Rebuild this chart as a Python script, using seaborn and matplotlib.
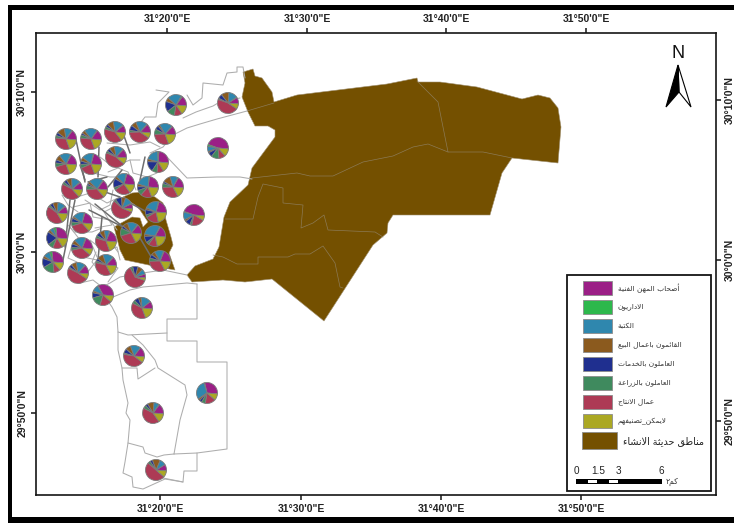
import matplotlib
matplotlib.use("Agg")
import matplotlib.pyplot as plt
from matplotlib.patches import Polygon, Rectangle
import pandas as pd
import seaborn as sns

pie_x = [66, 91, 115, 140, 165, 176, 228, 218, 66, 91, 116, 158, 72, 97, 124, 148, 173, 122, 156, 194,
         57, 82, 131, 155, 57, 106, 82, 53, 160, 106, 78, 135, 103, 142, 134, 207, 153, 156]
pie_y = [139, 139, 132, 132, 134, 105, 103, 148, 164, 164, 157, 162, 189, 189, 184, 187, 187, 208, 212, 215,
         213, 223, 233, 236, 238, 241, 248, 262, 261, 265, 273, 277, 295, 308, 356, 393, 413, 470]

# shares per district, one list per occupation group (percent, estimated)
professional = [16, 16, 12, 14, 14, 16, 10, 46, 18, 22, 14, 25, 12, 16, 22, 24, 18, 8, 22, 46,
                12, 22, 15, 18, 28, 20, 20, 28, 20, 14, 14, 6, 34, 12, 16, 30, 16, 10]
managers = [1, 1, 1, 1, 1, 2, 1, 3, 1, 1, 1, 2, 1, 1, 1, 1, 1, 1, 1, 1,
            1, 1, 1, 1, 4, 1, 1, 4, 1, 1, 1, 0, 1, 0, 0, 1, 1, 0]
clerks = [12, 20, 16, 18, 20, 22, 14, 8, 18, 18, 14, 20, 14, 22, 16, 22, 12, 12, 22, 12,
          12, 18, 16, 30, 6, 8, 18, 10, 14, 16, 14, 8, 10, 16, 16, 30, 8, 10]
sales = [12, 5, 10, 8, 3, 6, 12, 2, 8, 6, 8, 4, 8, 4, 4, 4, 12, 6, 3, 3,
         8, 3, 8, 3, 4, 8, 6, 4, 6, 10, 8, 8, 3, 4, 8, 3, 10, 12]
services = [5, 3, 4, 8, 6, 16, 7, 7, 5, 5, 5, 16, 5, 3, 14, 6, 3, 10, 8, 8,
            5, 6, 4, 10, 20, 6, 6, 14, 6, 4, 5, 8, 8, 7, 7, 4, 4, 4]
farming = [4, 5, 4, 3, 8, 12, 2, 12, 6, 6, 3, 8, 4, 6, 4, 8, 6, 3, 4, 3,
           3, 6, 12, 4, 8, 4, 4, 18, 5, 3, 2, 4, 16, 5, 2, 6, 5, 4]
production = [32, 32, 40, 40, 30, 12, 46, 10, 26, 24, 45, 10, 44, 36, 25, 17, 32, 55, 20, 20,
              44, 32, 28, 14, 15, 35, 35, 10, 32, 36, 48, 62, 18, 38, 42, 16, 42, 50]
unclassified = [18, 18, 13, 8, 18, 14, 8, 12, 18, 18, 10, 15, 12, 12, 14, 18, 16, 5, 20, 7,
                15, 12, 16, 20, 15, 18, 10, 12, 16, 16, 8, 4, 10, 18, 9, 10, 14, 10]

group_colors = ["#9b1f86", "#2db84c", "#2f87ae", "#8b5a1e", "#1f2f8f", "#3f8a5e", "#ad3a55", "#aba823"]
new_area_color = "#745000"
group_labels = ["أصحاب المهن الفنية", "الاداريون", "الكتبة", "القائمون باعمال البيع",
                "العاملون بالخدمات", "العاملون بالزراعة", "عمال الانتاج", "لايمكن_تصنيفهم"]
new_area_label = "مناطق حديثة الانشاء"
km_label = "كم٢"

scale_labels = ["0", "1.5", "3", "6"]
scale_pos = [576, 598, 618, 661]

bottom_ticks = [160, 301, 441, 581]
top_ticks = [167, 307, 446, 586]
lon_labels = ["31°20'0\"E", "31°30'0\"E", "31°40'0\"E", "31°50'0\"E"]
left_ticks = [92, 252, 413]
right_ticks = [100, 260, 421]
lat_labels = ["30°10'0\"N", "30°0'0\"N", "29°50'0\"N"]

new_area_east = [(243, 72), (253, 69), (255, 76), (262, 78), (272, 92), (274, 102), (297, 95), (387, 84), (417, 78),
                 (418, 82), (440, 82), (477, 87), (522, 99), (538, 95), (550, 98), (558, 108), (561, 127), (558, 163),
                 (512, 158), (502, 173), (490, 215), (393, 215), (388, 223), (387, 233), (373, 245), (324, 321),
                 (272, 279), (245, 282), (223, 280), (192, 282), (187, 275), (195, 266), (213, 259), (219, 247),
                 (224, 217), (230, 202), (248, 185), (252, 168), (275, 137), (275, 130), (268, 126), (255, 126),
                 (248, 112), (242, 97), (245, 83)]
new_area_west = [(123, 197), (132, 193), (142, 192), (155, 197), (163, 203), (166, 220), (171, 237), (173, 245),
                 (169, 253), (175, 270), (158, 267), (125, 260), (120, 250), (114, 227), (123, 222), (132, 217),
                 (140, 218), (143, 227), (148, 222), (140, 210), (135, 205)]

# district boundaries
inner_lines = [
    [(247, 111), (274, 103)],
    [(417, 81), (438, 102), (448, 152)],
    [(252, 178), (297, 173), (310, 176), (333, 176), (363, 162), (393, 156), (413, 147), (428, 144), (448, 152),
     (483, 152), (512, 158)],
    [(225, 219), (253, 219), (258, 197), (263, 184), (283, 188), (283, 203), (303, 205), (301, 228), (313, 223),
     (324, 215), (328, 230), (375, 232), (383, 237)],
    [(213, 255), (223, 257), (237, 264), (258, 264), (258, 257), (288, 257), (295, 254), (310, 254), (323, 246),
     (335, 263), (340, 287), (343, 288)],
]
outer_lines = [
    [(197, 284), (197, 319), (167, 319), (167, 341), (197, 341), (197, 362), (227, 362), (227, 449), (197, 453),
     (174, 454)],
    [(197, 453), (197, 471), (184, 471), (183, 482), (165, 479), (143, 489), (133, 487), (132, 477), (123, 473),
     (125, 462), (128, 443), (130, 420), (126, 413), (128, 403), (123, 380), (122, 368), (118, 350), (118, 332),
     (117, 317), (112, 307), (107, 300)],
    [(118, 332), (128, 335), (167, 333)],
    [(132, 335), (143, 345), (155, 360), (158, 368), (185, 385), (187, 395), (180, 420), (174, 454)],
    [(122, 368), (137, 368), (138, 379), (155, 368)],
    [(128, 443), (143, 447), (145, 453), (157, 457), (164, 455), (174, 454)],
    [(158, 477), (173, 480), (183, 482)],
    [(156, 90), (169, 92), (158, 103), (156, 117), (145, 117), (135, 130)],
    [(187, 95), (193, 105), (202, 98), (203, 83), (223, 85), (227, 73), (237, 72), (237, 67), (243, 67), (245, 78)],
    [(183, 118), (196, 112), (213, 106), (218, 103), (240, 98)],
    [(247, 111), (217, 119), (200, 124), (187, 128), (173, 135), (163, 147), (150, 153)],
    [(167, 157), (187, 178), (217, 177), (240, 177), (252, 179)],
    [(80, 283), (93, 280), (102, 287), (110, 283), (120, 277), (143, 273), (163, 270), (187, 275)],
    [(113, 297), (130, 290), (143, 287), (187, 283), (197, 284)],
    [(107, 143), (130, 145), (150, 142), (160, 147)],
    [(100, 157), (113, 167), (130, 160), (140, 160)],
    [(130, 160), (133, 173), (147, 177), (157, 173)],
    [(93, 173), (110, 177), (120, 177)],
    [(77, 197), (90, 193), (107, 203), (120, 197)],
    [(73, 207), (90, 203), (93, 217), (110, 220), (117, 230)],
    [(70, 227), (80, 240), (93, 247), (97, 257)],
    [(83, 257), (97, 260), (87, 273), (80, 283)],
    [(107, 250), (117, 247), (120, 260)],
    [(95, 228), (112, 225), (104, 212), (118, 205)],
    [(72, 245), (68, 258), (77, 262)],
    [(108, 262), (118, 268), (108, 282)],
    [(85, 200), (100, 210), (110, 205), (113, 190)],
    [(68, 225), (74, 232), (92, 232), (102, 228)],
    [(90, 240), (100, 248), (112, 244), (118, 252)],
    [(62, 195), (68, 205), (78, 212)],
    [(108, 172), (118, 168), (128, 172), (136, 190)],
    [(96, 252), (92, 262), (100, 272)],
]
leader_lines = [
    [(76, 140), (85, 182)], [(99, 147), (98, 177)], [(123, 133), (130, 153)], [(145, 157), (140, 180)],
    [(80, 165), (85, 180)], [(107, 177), (88, 182)], [(122, 170), (108, 187)], [(105, 192), (120, 197)],
    [(130, 203), (147, 212)], [(95, 204), (127, 230)], [(89, 210), (123, 227)], [(102, 217), (98, 260)],
    [(70, 200), (65, 247)], [(75, 200), (63, 260)], [(140, 238), (153, 260)],
]


def shape_arabic(text):
    # matplotlib has no text shaping, so map to presentation forms and reverse
    forms = {"ء": (0xFE80, 1), "أ": (0xFE83, 2), "ئ": (0xFE89, 4), "ا": (0xFE8D, 2), "ب": (0xFE8F, 4), "ة": (0xFE93, 2),
             "ت": (0xFE95, 4), "ث": (0xFE99, 4), "ج": (0xFE9D, 4), "ح": (0xFEA1, 4), "خ": (0xFEA5, 4), "د": (0xFEA9, 2),
             "ر": (0xFEAD, 2), "ز": (0xFEAF, 2), "ش": (0xFEB5, 4), "ص": (0xFEB9, 4), "ط": (0xFEC1, 4), "ع": (0xFEC9, 4),
             "ف": (0xFED1, 4), "ق": (0xFED5, 4), "ك": (0xFED9, 4), "ل": (0xFEDD, 4), "م": (0xFEE1, 4), "ن": (0xFEE5, 4),
             "ه": (0xFEE9, 4), "و": (0xFEED, 2), "ي": (0xFEF1, 4)}
    text = text.replace("لا", "\uFEFB")
    out = []
    for i, ch in enumerate(text):
        prev_ch = text[i - 1] if i > 0 else " "
        next_ch = text[i + 1] if i + 1 < len(text) else " "
        joins_prev = prev_ch in forms and forms[prev_ch][1] == 4
        joins_next = next_ch in forms or next_ch == "\uFEFB"
        if ch == "\uFEFB":
            out.append("\uFEFC" if joins_prev else ch)
        elif ch not in forms:
            out.append(ch)
        else:
            base, count = forms[ch]
            if count == 1:
                out.append(chr(base))
            elif count == 2:
                out.append(chr(base + 1) if joins_prev else chr(base))
            elif joins_prev and joins_next:
                out.append(chr(base + 3))
            elif joins_prev:
                out.append(chr(base + 1))
            elif joins_next:
                out.append(chr(base + 2))
            else:
                out.append(chr(base))
    return "".join(reversed(out))


def lines_frame(lines):
    rows = []
    for i, line in enumerate(lines):
        for x, y in line:
            rows.append({"id": i, "x": x, "y": y})
    return pd.DataFrame(rows)


sns.set_style("white")
plt.rcParams["font.family"] = ["Liberation Sans", "DejaVu Sans"]

W, H = 734, 524
fig = plt.figure(figsize=(W / 100, H / 100), dpi=100)
ax = fig.add_axes([36 / W, 1 - 495 / H, (716 - 36) / W, (495 - 33) / H])

# new urban areas
ax.add_patch(Polygon(new_area_east, closed=True, facecolor=new_area_color, edgecolor="#a09070", lw=0.4, zorder=1))
ax.add_patch(Polygon(new_area_west, closed=True, facecolor=new_area_color, edgecolor="#a09070", lw=0.4, zorder=1))

sns.lineplot(data=lines_frame(inner_lines), x="x", y="y", units="id", estimator=None, sort=False,
             color="#8c7a55", lw=0.5, ax=ax, zorder=2, legend=False)
sns.lineplot(data=lines_frame(outer_lines), x="x", y="y", units="id", estimator=None, sort=False,
             color="#adadad", lw=0.75, ax=ax, zorder=2, legend=False)
sns.lineplot(data=lines_frame(leader_lines), x="x", y="y", units="id", estimator=None, sort=False,
             color="#6e6e6e", lw=1.1, ax=ax, zorder=3, legend=False)

# legend order runs anticlockwise on screen from 3 o'clock; the y axis is flipped
groups = [professional, managers, clerks, sales, services, farming, production, unclassified]
for i in range(len(pie_x)):
    shares = [g[i] for g in groups]
    ax.pie(shares, center=(pie_x[i], pie_y[i]), radius=10.5, startangle=5, counterclock=False, frame=True,
           colors=group_colors,
           wedgeprops={"edgecolor": "#7c7c7c", "linewidth": 0.6, "zorder": 4})

ax.set_aspect("auto")
ax.set_xlim(36, 716)
ax.set_ylim(495, 33)
ax.set_xlabel("")
ax.set_ylabel("")

# neatline and graticule ticks
for spine in ax.spines.values():
    spine.set_visible(True)
    spine.set_color("#151515")
    spine.set_linewidth(1.2)
tick_style = {"length": 3.8, "width": 1.1, "color": "#151515", "labelsize": 7.5, "pad": 2.5}
ax.set_xticks(bottom_ticks, lon_labels, fontweight="bold", color="#222222")
ax.set_yticks(left_ticks, lat_labels, fontweight="bold", color="#222222", rotation=90, va="center")
ax.tick_params(axis="both", bottom=True, left=True, **tick_style)
top = ax.secondary_xaxis("top")
top.set_xticks(top_ticks, lon_labels, fontweight="bold", color="#222222")
top.tick_params(**tick_style)
right = ax.secondary_yaxis("right")
right.set_yticks(right_ticks, lat_labels, fontweight="bold", color="#222222", rotation=90, va="center")
right.tick_params(**tick_style)
for sec in (top, right):
    for spine in sec.spines.values():
        spine.set_visible(False)

# heavy outer frame, open on the right
ax.add_patch(Rectangle((8, 5), W, 4.5, facecolor="black", edgecolor="none", clip_on=False, zorder=6))
ax.add_patch(Rectangle((7.5, 5), 4.5, 518 - 5, facecolor="black", edgecolor="none", clip_on=False, zorder=6))
ax.add_patch(Rectangle((7.5, 517), W, 6, facecolor="black", edgecolor="none", clip_on=False, zorder=6))

# legend panel
ax.add_patch(Rectangle((567, 275), 144, 216, facecolor="white", edgecolor="#151515", lw=1.3, zorder=5))
swatch_top = [281, 300, 319, 338, 357, 376, 395, 414]
for top_y, color, label in zip(swatch_top, group_colors, group_labels):
    ax.add_patch(Rectangle((583, top_y), 29, 14, facecolor=color, edgecolor="#8c8c8c", lw=0.6, zorder=6))
    ax.text(618, top_y + 7, shape_arabic(label), ha="left", va="center", fontsize=5.3,
            family="DejaVu Sans", color="#333333", zorder=6)
ax.add_patch(Rectangle((582, 432), 35, 17, facecolor=new_area_color, edgecolor="#8c8c8c", lw=0.6, zorder=6))
ax.text(623, 441, shape_arabic(new_area_label), ha="left", va="center", fontsize=6.9,
        family="DejaVu Sans", color="#222222", zorder=6)

# scale bar
ax.add_patch(Rectangle((576, 478.5), 86, 5.5, facecolor="black", edgecolor="none", zorder=6))
ax.add_patch(Rectangle((588, 480), 9, 2.5, facecolor="white", edgecolor="none", zorder=7))
ax.add_patch(Rectangle((609, 480), 9, 2.5, facecolor="white", edgecolor="none", zorder=7))
for pos, label in zip(scale_pos, scale_labels):
    ax.text(pos, 471, label, ha="center", va="center", fontsize=7.2, color="#222222", zorder=6)
ax.text(672, 481, shape_arabic(km_label), ha="center", va="center", fontsize=5.5,
        family="DejaVu Sans", color="#333333", zorder=6)

# north arrow
ax.text(678, 53, "N", ha="center", va="center", fontsize=13, color="#111111", zorder=6)
ax.add_patch(Polygon([(678, 65), (691, 107), (679, 92)], closed=True, facecolor="white", edgecolor="black", lw=0.8, zorder=6))
ax.add_patch(Polygon([(678, 65), (666, 107), (679, 92)], closed=True, facecolor="black", edgecolor="black", lw=0.8, zorder=6))

fig.savefig("out.png", dpi=100)
